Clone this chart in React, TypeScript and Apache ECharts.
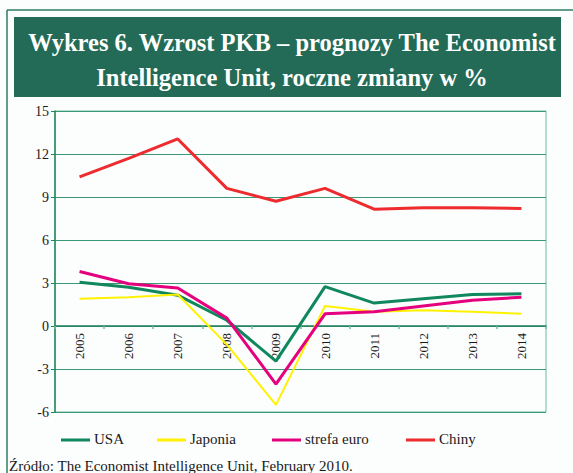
import React, { useEffect, useRef } from "react";
import * as echarts from "echarts";

const years = ["2005", "2006", "2007", "2008", "2009", "2010", "2011", "2012", "2013", "2014"];
const usa = [3.05, 2.7, 2.15, 0.4, -2.45, 2.75, 1.6, 1.9, 2.2, 2.25];
const japonia = [1.9, 2.0, 2.2, -1.3, -5.5, 1.4, 1.0, 1.1, 1.0, 0.85];
const strefaEuro = [3.8, 2.95, 2.65, 0.55, -4.05, 0.85, 1.0, 1.4, 1.8, 2.0];
const chiny = [10.4, 11.7, 13.05, 9.6, 8.7, 9.6, 8.15, 8.25, 8.25, 8.2];
const yTicks = { min: -6, max: 15, interval: 3 };

const seriesNames = ["USA", "Japonia", "strefa euro", "Chiny"];
const seriesColors = ["#10875c", "#fff200", "#e5007e", "#ee2b2e"];
const seriesWidths = [3, 2, 3, 3];
const legendLeft = [61, 157, 272, 406];

const titleLines = [
  "Wykres 6. Wzrost PKB – prognozy The Economist",
  "Intelligence Unit, roczne zmiany w %",
];
const sourceText = "Źródło: The Economist Intelligence Unit, February 2010.";

const SERIF = '"Liberation Serif", "Times New Roman", serif';

const GRID_TOP = 111;
const GRID_BOTTOM = 61;
const CHART_H = 473;

export default function App() {
  const ref = useRef<HTMLDivElement>(null);
  useEffect(() => {
    if (!ref.current) return;
    const chart = echarts.init(ref.current, null, { renderer: "svg" });
    const gridH = CHART_H - GRID_TOP - GRID_BOTTOM;
    // distance (px) from the bottom of the grid up to the zero line
    const zeroOffset = (gridH * (0 - yTicks.min)) / (yTicks.max - yTicks.min);
    const allData = [usa, japonia, strefaEuro, chiny];
    const series = seriesNames.map((name, i) => ({
      name,
      type: "line",
      data: allData[i],
      symbol: "none",
      lineStyle: { color: seriesColors[i], width: seriesWidths[i] },
      itemStyle: { color: seriesColors[i] },
      z: 3,
    }));
    const legendGraphics: any[] = [];
    seriesNames.forEach((name, i) => {
      const x = legendLeft[i];
      legendGraphics.push({
        type: "line",
        shape: { x1: x, y1: 440, x2: x + 29, y2: 440 },
        style: { stroke: seriesColors[i], lineWidth: 3 },
      });
      legendGraphics.push({
        type: "text",
        x: x + 33,
        y: 439,
        style: {
          text: name,
          fill: "#1a1a1a",
          font: `15px ${SERIF}`,
          align: "left",
          verticalAlign: "middle",
        },
      });
    });
    chart.setOption({
      animation: false,
      backgroundColor: "#fcfdfd",
      textStyle: { fontFamily: SERIF },
      grid: {
        left: 55,
        right: 27,
        top: GRID_TOP,
        bottom: GRID_BOTTOM,
        show: true,
        borderColor: "#6cbd9f",
        borderWidth: 1,
        backgroundColor: "transparent",
      },
      graphic: [
        { type: "line", shape: { x1: 7, y1: 10, x2: 573, y2: 10 }, style: { stroke: "#2f7d65", lineWidth: 1.5 } },
        { type: "line", shape: { x1: 7, y1: 10, x2: 7, y2: 473 }, style: { stroke: "#2f7d65", lineWidth: 1.5 } },
        { type: "rect", shape: { x: 14, y: 17, width: 547, height: 80 }, style: { fill: "#236b57" } },
        {
          type: "text",
          x: 292,
          y: 42,
          style: {
            text: titleLines[0],
            fill: "#ffffff",
            font: `bold 24.5px ${SERIF}`,
            align: "center",
            verticalAlign: "middle",
          },
        },
        {
          type: "text",
          x: 292,
          y: 77,
          style: {
            text: titleLines[1],
            fill: "#ffffff",
            font: `bold 24.5px ${SERIF}`,
            align: "center",
            verticalAlign: "middle",
          },
        },
        {
          type: "text",
          x: 9,
          y: 466,
          style: {
            text: sourceText,
            fill: "#1a1a1a",
            font: `15px ${SERIF}`,
            align: "left",
            verticalAlign: "middle",
          },
        },
        ...legendGraphics,
      ],
      xAxis: {
        type: "category",
        data: years,
        boundaryGap: true,
        position: "bottom",
        offset: -zeroOffset,
        axisLine: { onZero: false, lineStyle: { color: "#1f7f5b", width: 1.5 } },
        axisTick: { show: true, length: 3, interval: 0, lineStyle: { color: "#6cbd9f", width: 1.5 } },
        axisLabel: {
          rotate: 90,
          interval: 0,
          margin: 7,
          fontSize: 13,
          fontFamily: SERIF,
          color: "#1a1a1a",
        },
        splitLine: { show: false },
      },
      yAxis: {
        type: "value",
        min: yTicks.min,
        max: yTicks.max,
        interval: yTicks.interval,
        axisLine: { show: true, lineStyle: { color: "#21875f", width: 1.5 } },
        axisTick: { show: true, length: 4, lineStyle: { color: "#21875f" } },
        axisLabel: { fontSize: 14, fontFamily: SERIF, color: "#1a1a1a", margin: 6 },
        splitLine: { show: true, lineStyle: { color: "#3a9a78", width: 1.2 } },
      },
      series,
    });
    return () => chart.dispose();
  }, []);
  return (
    <div
      ref={ref}
      style={{ position: "fixed", left: 0, top: 0, width: 573, height: 473 }}
    />
  );
}
